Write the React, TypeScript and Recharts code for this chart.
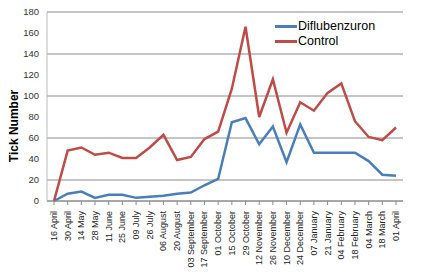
import { CartesianGrid, Line, LineChart, XAxis, YAxis } from "recharts";

const dates = [
  "16 April", "30 April", "14 May", "28 May", "11 June", "25 June", "09 July", "26 July",
  "06 August", "20 August", "03 September", "17 September", "01 October", "15 October",
  "29 October", "12 November", "26 November", "10 December", "24 December", "07 January",
  "21 January", "04 February", "18 February", "04 March", "18 March", "01 April",
];
const diflubenzuron = [0, 7, 9, 3, 6, 6, 3, 4, 5, 7, 8, 15, 21, 75, 79, 54, 71, 37, 73, 46, 46, 46, 46, 38, 25, 24];
const control = [0, 48, 51, 44, 46, 41, 41, 51, 63, 39, 42, 59, 66, 107, 166, 80, 116, 65, 94, 86, 103, 112, 76, 61, 58, 70];
const yTicks = [0, 20, 40, 60, 80, 100, 120, 140, 160, 180];

const series = [
  { key: "Diflubenzuron", color: "#4a7ebb" },
  { key: "Control", color: "#be4b48" },
];

const data = dates.map((d, i) => ({
  date: d,
  Diflubenzuron: diflubenzuron[i],
  Control: control[i],
}));

const font = "'Liberation Sans', Arial, sans-serif";

function DateTick({ x, y, payload }: any) {
  return (
    <text
      x={0}
      y={0}
      transform={`translate(${x + 3},${y + 4}) rotate(-90)`}
      textAnchor="end"
      fontSize={9}
      fontFamily={font}
      fill="#222"
    >
      {payload.value}
    </text>
  );
}

export default function App() {
  return (
    <div style={{ position: "absolute", left: 0, top: 0, width: 425, height: 275, background: "#fff" }}>
      <LineChart width={425} height={275} data={data} margin={{ top: 12, right: 22, left: 0, bottom: 0 }}>
        <CartesianGrid vertical={false} stroke="#8a8a8a" strokeWidth={1} />
        <XAxis
          dataKey="date"
          interval={0}
          height={74}
          padding={{ left: 7, right: 7 }}
          tick={<DateTick />}
          tickLine={{ stroke: "#8a8a8a" }}
          tickSize={4}
          axisLine={{ stroke: "#8a8a8a" }}
        />
        <YAxis
          domain={[0, 180]}
          ticks={yTicks}
          width={47}
          tickLine={false}
          axisLine={{ stroke: "#bbbbbb" }}
          tick={{ fontSize: 9.5, fontFamily: font, fill: "#333" }}
          label={{
            value: "Tick Number",
            content: () => (
              <text
                transform="translate(18,126) rotate(-90)"
                textAnchor="middle"
                fontSize={12}
                fontWeight="bold"
                fontFamily={font}
                fill="#000"
              >
                Tick Number
              </text>
            ),
          }}
        />
        {series.map((s) => (
          <Line
            key={s.key}
            type="linear"
            dataKey={s.key}
            stroke={s.color}
            strokeWidth={2.5}
            dot={false}
            isAnimationActive={false}
          />
        ))}
      </LineChart>
      <div style={{ position: "absolute", left: 275, top: 19, fontFamily: font, fontSize: 12.5, lineHeight: "15px" }}>
        {series.map((s) => (
          <div key={s.key} style={{ display: "flex", alignItems: "center" }}>
            <span style={{ display: "inline-block", width: 22, height: 2.5, background: s.color, marginRight: 1 }} />
            <span>{s.key}</span>
          </div>
        ))}
      </div>
    </div>
  );
}
